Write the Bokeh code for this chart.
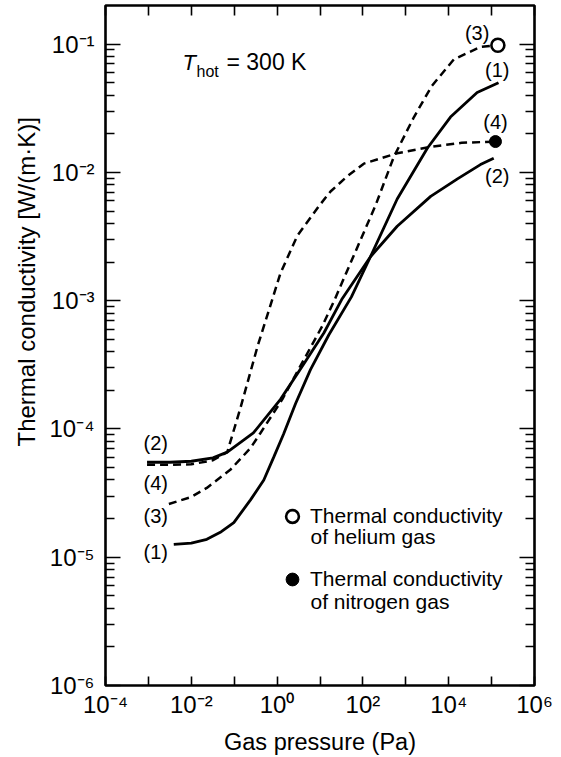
from bokeh.plotting import figure
from bokeh.models import (LogAxis, FixedTicker, Label, Range1d, Legend, LegendItem,
                          CustomJSTickFormatter, Title)
from bokeh.embed import file_html
from bokeh.resources import INLINE

# Gas pressure (Pa) and thermal conductivity W/(m K) for the four curves
pressure_1 = [3.9e-3, 1.0e-2, 2.3e-2, 5.0e-2, 9.8e-2, 0.24, 0.49, 0.83, 1.41, 2.7, 6.0,
              16.0, 54.0, 150.0, 630.0, 3.2e3, 1.1e4, 4.6e4, 1.45e5]
conduct_1 = [1.26e-5, 1.29e-5, 1.38e-5, 1.58e-5, 1.86e-5, 2.8e-5, 4.0e-5, 6.0e-5, 9.1e-5,
             1.58e-4, 2.9e-4, 5.4e-4, 1.07e-3, 2.2e-3, 6.2e-3, 1.55e-2, 2.7e-2, 4.2e-2, 5.0e-2]

pressure_2 = [9.3e-4, 3.2e-3, 1.0e-2, 3.2e-2, 6.9e-2, 0.28, 1.2, 3.9, 12.3, 32.0, 150.0,
              630.0, 3.8e3, 1.6e4, 5.5e4, 1.12e5]
conduct_2 = [5.5e-5, 5.5e-5, 5.6e-5, 5.95e-5, 6.6e-5, 9.3e-5, 1.7e-4, 3.1e-4, 5.6e-4,
             1.02e-3, 2.2e-3, 3.8e-3, 6.5e-3, 8.9e-3, 1.15e-2, 1.29e-2]

pressure_3 = [3.0e-3, 1.0e-2, 2.3e-2, 8.1e-2, 0.24, 0.41, 1.32, 3.5, 11.2, 22.0, 74.0,
              200.0, 525.0, 1.55e3, 4.0e3, 1.32e4, 5.5e4, 1.4e5]
conduct_3 = [2.6e-5, 2.95e-5, 3.47e-5, 4.8e-5, 7.1e-5, 9.3e-5, 1.7e-4, 3.1e-4, 6.3e-4,
             1.02e-3, 2.6e-3, 5.6e-3, 1.32e-2, 2.7e-2, 4.7e-2, 7.6e-2, 9.5e-2, 0.098]

pressure_4 = [9.3e-4, 3.2e-3, 1.0e-2, 3.2e-2, 6.9e-2, 0.14, 0.35, 0.77, 1.2, 2.95, 10.0,
              17.6, 42.7, 105.0, 630.0, 3.8e3, 2.0e4, 1.23e5]
conduct_4 = [5.25e-5, 5.25e-5, 5.3e-5, 5.7e-5, 6.6e-5, 1.46e-4, 4.4e-4, 1.02e-3, 1.64e-3,
             3.2e-3, 5.6e-3, 7.1e-3, 9.3e-3, 1.17e-2, 1.41e-2, 1.58e-2, 1.7e-2, 1.74e-2]

# Curve numbers and where their tags sit (pressure, conductivity)
tag_text = ["(2)", "(4)", "(3)", "(1)", "(3)", "(1)", "(4)", "(2)"]
tag_x = [1.48e-3, 1.48e-3, 1.48e-3, 1.48e-3, 4.6e4, 1.35e5, 1.23e5, 1.35e5]
tag_y = [7.8e-5, 3.8e-5, 2.1e-5, 1.1e-5, 0.121, 6.3e-2, 2.48e-2, 9.3e-3]

# Axis decades
x_decades = [-4, -3, -2, -1, 0, 1, 2, 3, 4, 5, 6]
x_labelled = [-4, -2, 0, 2, 4, 6]
y_decades = [-6, -5, -4, -3, -2, -1]

FONT = "Liberation Sans"

p = figure(width=561, height=757, x_axis_type="log", y_axis_type="log",
           x_range=Range1d(1e-4, 1e6), y_range=Range1d(1e-6, 0.2),
           output_backend="svg", toolbar_location=None,
           min_border_left=105, min_border_right=27, min_border_top=5, min_border_bottom=71)
p.grid.visible = False
p.outline_line_color = "black"
p.outline_line_width = 2.6
p.background_fill_color = "white"
p.border_fill_color = "white"

x_ticks = [10.0 ** e for e in x_decades]
y_ticks = [10.0 ** e for e in y_decades]
y_minor = [m * 10.0 ** e for e in y_decades[:-1] for m in range(2, 10)]

# "10" followed by a superscript exponent
POWER_CODE = """
const e = Math.round(Math.log10(tick));
if (show.indexOf(e) < 0) return "";
const sup = {"-": "\\u207b", "0": "\\u2070", "1": "\\u00b9", "2": "\\u00b2",
             "3": "\\u00b3", "4": "\\u2074", "5": "\\u2075", "6": "\\u2076",
             "7": "\\u2077", "8": "\\u2078", "9": "\\u2079"};
return "10" + String(e).split("").map((c) => sup[c]).join("");
"""


def style_axis(ax, ticker, major_in, minor_in, shown):
    ax.ticker = ticker
    ax.formatter = CustomJSTickFormatter(args=dict(show=shown), code=POWER_CODE)
    ax.axis_line_color = None
    ax.major_tick_in = major_in
    ax.major_tick_out = 0
    ax.minor_tick_in = minor_in
    ax.minor_tick_out = 0
    ax.major_tick_line_width = 1.6
    ax.minor_tick_line_width = 1.6
    ax.major_tick_line_color = "black"
    ax.minor_tick_line_color = "black"
    ax.major_label_text_font = FONT
    ax.major_label_text_color = "black"
    ax.major_label_text_font_size = "24px" if shown else "0px"


x_ticker = FixedTicker(ticks=x_ticks, minor_ticks=[])
y_ticker = FixedTicker(ticks=y_ticks, minor_ticks=y_minor)

xax = p.xaxis[0]
style_axis(xax, x_ticker, 9, 0, x_labelled)
xax.major_label_standoff = 5
xax.axis_label = "Gas pressure (Pa)"
xax.axis_label_text_font = FONT
xax.axis_label_text_font_size = "23.5px"
xax.axis_label_text_font_style = "normal"
xax.axis_label_text_color = "black"
xax.axis_label_standoff = 8

yax = p.yaxis[0]
style_axis(yax, y_ticker, 15, 9, y_decades)
yax.major_label_standoff = 11

top_axis = LogAxis()
style_axis(top_axis, x_ticker, 10, 0, [])
top_axis.major_label_standoff = 0
p.add_layout(top_axis, "above")
right_axis = LogAxis()
style_axis(right_axis, y_ticker, 15, 9, [])
right_axis.major_label_standoff = 0
p.add_layout(right_axis, "right")

# Vertical axis title, starting 239 px above the frame's lower edge
p.add_layout(Title(text="Thermal conductivity [W/(m\u00b7K)]", align="left", offset=239,
                   standoff=14, text_font=FONT, text_font_size="24px",
                   text_font_style="normal", text_color="black"), "left")

# Curves
p.line(pressure_1, conduct_1, line_color="black", line_width=2.8)
p.line(pressure_2, conduct_2, line_color="black", line_width=2.8)
p.line(pressure_3, conduct_3, line_color="black", line_width=2.5, line_dash="8 5")
p.line(pressure_4, conduct_4, line_color="black", line_width=2.5, line_dash="8 5")

helium = p.scatter([pressure_3[-1]], [conduct_3[-1]], marker="circle", size=13,
                   fill_color="white", line_color="black", line_width=2.6)
nitrogen = p.scatter([pressure_4[-1]], [conduct_4[-1]], marker="circle", size=12,
                     fill_color="black", line_color="black", line_width=1)

legend = Legend(items=[
    LegendItem(label="Thermal conductivity", renderers=[helium]),
    LegendItem(label="Thermal conductivity", renderers=[nitrogen]),
], location=(171, 90), border_line_color=None, background_fill_alpha=0,
    label_text_font=FONT, label_text_font_size="21px", label_text_color="black",
    glyph_width=32, glyph_height=32, label_standoff=2, spacing=31, padding=0, margin=0)
p.add_layout(legend)

# Second line of each legend entry
p.add_layout(Label(x=6.0, y=1.44e-5, text="of helium gas", text_font=FONT,
                   text_font_size="21px", text_baseline="alphabetic", text_color="black"))
p.add_layout(Label(x=6.0, y=4.5e-6, text="of nitrogen gas", text_font=FONT,
                   text_font_size="21px", text_baseline="alphabetic", text_color="black"))

# Curve tags
for t, tx, ty in zip(tag_text, tag_x, tag_y):
    p.add_layout(Label(x=tx, y=ty, text=t, text_align="center", text_baseline="middle",
                       text_font=FONT, text_font_size="20px", text_color="black"))

# Temperature annotation
t_x, t_y = 10 ** -2.205, 10 ** -1.14
p.add_layout(Label(x=t_x, y=t_y, text="T", text_font=FONT, text_font_style="italic",
                   text_font_size="22px", text_baseline="alphabetic", text_color="black"))
p.add_layout(Label(x=t_x, y=t_y, x_offset=14, y_offset=-9, text="hot", text_font=FONT,
                   text_font_size="16px", text_baseline="alphabetic", text_color="black"))
p.add_layout(Label(x=t_x, y=t_y, x_offset=44, text="= 300 K", text_font=FONT,
                   text_font_size="23px", text_baseline="alphabetic", text_color="black"))

open("out.html", "w").write(file_html(p, INLINE))
